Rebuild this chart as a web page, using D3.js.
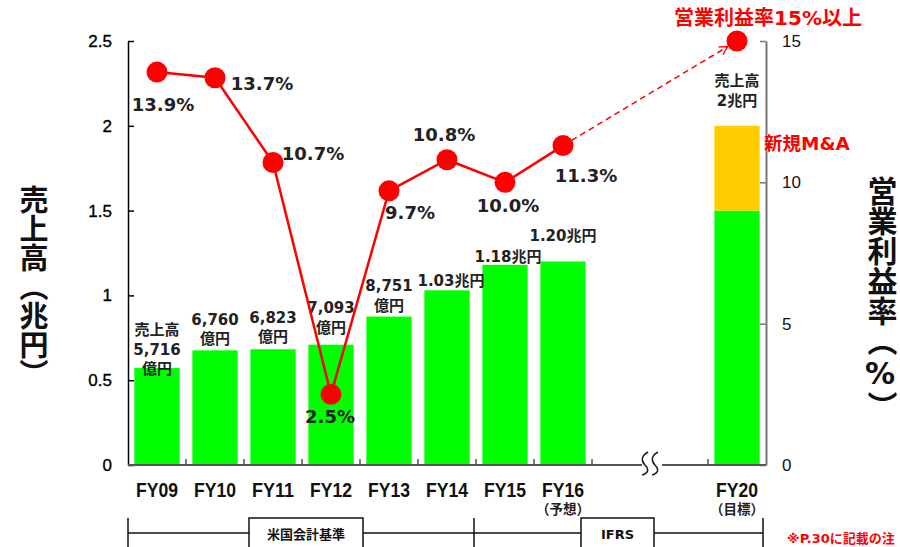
<!DOCTYPE html>
<html>
<head>
<meta charset="utf-8">
<script src="https://cdn.jsdelivr.net/npm/d3@7/dist/d3.min.js"></script>
<style>
  html, body { margin: 0; padding: 0; background: #fff; }
  svg { display: block; }
  .jp { font-family: "DejaVu Sans", "Noto Sans CJK JP", sans-serif; font-weight: bold; }
  .num { font-family: "Liberation Sans", Arial, sans-serif; }
</style>
</head>
<body>
<svg id="chart" width="900" height="547"></svg>
<script>
// Fiscal years shown on the axis
const categories = ["FY09", "FY10", "FY11", "FY12", "FY13", "FY14", "FY15", "FY16", "FY20"];
// Slots along the axis; the two unnamed ones sit inside the axis break
const slots = ["FY09", "FY10", "FY11", "FY12", "FY13", "FY14", "FY15", "FY16", "gapA", "gapB", "FY20"];
// Net sales (trillion yen); FY20 split into existing business + new M&A
const salesBase = [0.5716, 0.6760, 0.6823, 0.7093, 0.8751, 1.03, 1.18, 1.20, 1.5];
const salesMA   = [0, 0, 0, 0, 0, 0, 0, 0, 0.5];
// Operating margin (%)
const margin = [13.9, 13.7, 10.7, 2.5, 9.7, 10.8, 10.0, 11.3, 15];
// Text above each bar
const salesLabels = [
  ["売上高", "5,716", "億円"], ["6,760", "億円"], ["6,823", "億円"], ["7,093", "億円"],
  ["8,751", "億円"], ["1.03兆円"], ["1.18兆円"], ["1.20兆円"], ["売上高", "2兆円"]
];
const marginLabels = ["13.9%", "13.7%", "10.7%", "2.5%", "9.7%", "10.8%", "10.0%", "11.3%"];
const periodNotes = ["", "", "", "", "", "", "", "（予想）", "（目標）"];
const leftTicks = [0, 0.5, 1, 1.5, 2, 2.5];
const rightTicks = [0, 5, 10, 15];
const leftTitle = "売上高（兆円）";
const rightTitle = "営業利益率（%）";
const targetNote = "営業利益率15%以上";
const maNote = "新規M&A";
const standards = ["米国会計基準", "IFRS"];
const footNote = "※P.30に記載の注";

// ---- layout ----
const X0 = 128, X1 = 766, Y0 = 465, Y1 = 41;
const RED = "#ff0000", GREEN = "#00ff00", ORANGE = "#ffcc00";

const svg = d3.select("#chart");

const slotScale = d3.scaleBand().domain(slots).range([X0, X1]).padding(0);
const barScale = d3.scaleBand().domain(slots).range([X0, X1]).paddingInner(0.22).paddingOuter(0.11);
const yL = d3.scaleLinear().domain([0, 2.5]).range([Y0, Y1]);
const yR = d3.scaleLinear().domain([0, 15]).range([Y0, Y1]);
const cx = c => slotScale(c) + slotScale.bandwidth() / 2;

// ---- bars ----
const bars = svg.append("g");
bars.selectAll("rect.base").data(categories).join("rect")
  .attr("class", "base")
  .attr("x", c => barScale(c))
  .attr("width", barScale.bandwidth())
  .attr("y", (c, i) => yL(salesBase[i]))
  .attr("height", (c, i) => Y0 - yL(salesBase[i]))
  .attr("fill", GREEN);
bars.selectAll("rect.ma").data(categories.filter((c, i) => salesMA[i] > 0)).join("rect")
  .attr("class", "ma")
  .attr("x", c => barScale(c))
  .attr("width", barScale.bandwidth())
  .attr("y", c => { const i = categories.indexOf(c); return yL(salesBase[i] + salesMA[i]); })
  .attr("height", c => { const i = categories.indexOf(c); return yL(salesBase[i]) - yL(salesBase[i] + salesMA[i]); })
  .attr("fill", ORANGE);

// ---- sales labels ----
// vertical offset of the last line above the bar top, per category
const labelLift = [-1, 11, 12, 17, 11, 9, 8, 25, 25];
const labelShift = [0, 0, 0, 0, 0, 4, 3, 0, 0];
categories.forEach((c, i) => {
  const lines = salesLabels[i];
  const top = yL(salesBase[i] + salesMA[i]);
  const t = svg.append("text").attr("class", "jp")
    .attr("text-anchor", "middle")
    .attr("font-size", 15)
    .attr("fill", "#222");
  const last = top - labelLift[i];
  lines.forEach((s, k) => {
    t.append("tspan")
      .attr("x", cx(c) + labelShift[i])
      .attr("y", last - (lines.length - 1 - k) * 19.5)
      .attr("dominant-baseline", "central")
      .text(s);
  });
});

// ---- axes ----
const axL = svg.append("g").attr("transform", `translate(${X0},0)`)
  .call(d3.axisLeft(yL).tickValues(leftTicks).tickFormat(d3.format("")).tickSize(-6).tickSizeOuter(0).tickPadding(16));
axL.select(".domain").attr("stroke", "#000").attr("stroke-width", 1.5);
axL.selectAll(".tick line").attr("stroke", "#000").attr("stroke-width", 1.5);
axL.selectAll(".tick text").attr("class", "num").attr("font-size", 17).attr("fill", "#000")
  .attr("stroke", "#000").attr("stroke-width", 0.35);

const axR = svg.append("g").attr("transform", `translate(${X1},0)`)
  .call(d3.axisRight(yR).tickValues(rightTicks).tickSize(-6).tickSizeOuter(0).tickPadding(16));
axR.select(".domain").attr("stroke", "#777").attr("stroke-width", 2);
axR.selectAll(".tick line").attr("stroke", "#777").attr("stroke-width", 1.5);
axR.selectAll(".tick text").attr("class", "num").attr("font-size", 17).attr("fill", "#111");

// category axis with a break between FY16 and FY20
const breakX = slotScale("gapB");
const xa = svg.append("g");
xa.append("line").attr("x1", X0).attr("x2", breakX - 8).attr("y1", Y0).attr("y2", Y0)
  .attr("stroke", "#555").attr("stroke-width", 2);
xa.append("line").attr("x1", breakX + 12).attr("x2", X1).attr("y1", Y0).attr("y2", Y0)
  .attr("stroke", "#555").attr("stroke-width", 2);
const tickSlots = slots.slice(1).filter(s => s !== "gapB");
xa.selectAll("line.tk").data(tickSlots).join("line").attr("class", "tk")
  .attr("x1", s => slotScale(s)).attr("x2", s => slotScale(s))
  .attr("y1", Y0).attr("y2", Y0 - 6)
  .attr("stroke", "#555").attr("stroke-width", 1.5);
// break mark: two stacked S-curves
[-5, 5].forEach(dx => {
  const x = breakX + dx;
  xa.append("path")
    .attr("d", `M${x + 3},${Y0 - 13} C${x - 4},${Y0 - 9} ${x - 4},${Y0 - 4} ${x},${Y0} S${x + 4},${Y0 + 8} ${x - 3},${Y0 + 10}`)
    .attr("fill", "none").attr("stroke", "#222").attr("stroke-width", 1.5);
});

// category labels
categories.forEach((c, i) => {
  svg.append("text").attr("class", "num")
    .attr("x", cx(c)).attr("y", 490)
    .attr("text-anchor", "middle").attr("dominant-baseline", "central")
    .attr("font-size", 20).attr("font-weight", "bold")
    .attr("textLength", 42).attr("lengthAdjust", "spacingAndGlyphs")
    .attr("fill", "#111")
    .text(c);
  if (periodNotes[i]) {
    svg.append("text").attr("class", "jp")
      .attr("x", cx(c)).attr("y", 508.5)
      .attr("text-anchor", "middle").attr("dominant-baseline", "central")
      .attr("font-size", 13.5).attr("fill", "#222")
      .text(periodNotes[i]);
  }
});

// ---- margin line ----
const solidIdx = d3.range(0, 8);
const line = d3.line().x(i => cx(categories[i])).y(i => yR(margin[i]));
svg.append("path").attr("d", line(solidIdx))
  .attr("fill", "none").attr("stroke", RED).attr("stroke-width", 2.5);

// dashed projection to the FY20 target with an arrow
svg.append("defs").append("marker")
  .attr("id", "arrow").attr("viewBox", "0 0 10 10")
  .attr("refX", 9).attr("refY", 5).attr("markerWidth", 10).attr("markerHeight", 10)
  .attr("markerUnits", "userSpaceOnUse").attr("orient", "auto")
  .append("path").attr("d", "M1,0.5 L9,5 L1,9.5")
  .attr("fill", "none").attr("stroke", RED).attr("stroke-width", 1.3);
{
  const ax = cx("FY16"), ay = yR(margin[7]);
  const bx = cx("FY20"), by = yR(margin[8]);
  const len = Math.hypot(bx - ax, by - ay);
  const ux = (bx - ax) / len, uy = (by - ay) / len;
  svg.append("line")
    .attr("x1", ax + ux * 10).attr("y1", ay + uy * 10)
    .attr("x2", bx - ux * 11).attr("y2", by - uy * 11)
    .attr("stroke", RED).attr("stroke-width", 1.5)
    .attr("stroke-dasharray", "6,4")
    .attr("marker-end", "url(#arrow)");
}

svg.selectAll("circle.pt").data(categories).join("circle").attr("class", "pt")
  .attr("cx", c => cx(c)).attr("cy", (c, i) => yR(margin[i]))
  .attr("r", 10.5).attr("fill", RED);

// margin value labels (offset from each point)
const mOff = [[6, 32], [47, 6], [40, -9], [-1, 22], [21, 22], [-3, -25], [3, 23], [23, 30]];
marginLabels.forEach((s, i) => {
  svg.append("text").attr("class", "jp")
    .attr("x", cx(categories[i]) + mOff[i][0])
    .attr("y", yR(margin[i]) + mOff[i][1])
    .attr("text-anchor", "middle").attr("dominant-baseline", "central")
    .attr("font-size", 18).attr("fill", "#222")
    .text(s);
});

// ---- annotations ----
svg.append("text").attr("class", "jp")
  .attr("x", 768).attr("y", 18).attr("text-anchor", "middle").attr("dominant-baseline", "central")
  .attr("font-size", 20).attr("fill", RED).text(targetNote);
svg.append("text").attr("class", "jp")
  .attr("x", 764).attr("y", 143).attr("dominant-baseline", "central")
  .attr("font-size", 18.5).attr("fill", RED).text(maNote);

// axis titles (vertical)
svg.append("text").attr("class", "jp")
  .attr("x", 31).attr("y", 287)
  .attr("writing-mode", "vertical-rl").style("text-orientation", "upright")
  .attr("text-anchor", "middle")
  .attr("font-size", 29).attr("fill", "#111").text(leftTitle);
svg.append("text").attr("class", "jp")
  .attr("x", 880).attr("y", 298)
  .attr("writing-mode", "vertical-rl").style("text-orientation", "upright")
  .attr("text-anchor", "middle")
  .attr("font-size", 30).attr("fill", "#111").text(rightTitle);

// ---- accounting standard bracket ----
const br = svg.append("g");
br.append("line").attr("x1", X0).attr("x2", 763).attr("y1", 533).attr("y2", 533)
  .attr("stroke", "#111").attr("stroke-width", 1.5);
[X0, slotScale("FY15") - 2, 763].forEach(x => {
  br.append("line").attr("x1", x).attr("x2", x).attr("y1", 518).attr("y2", 547)
    .attr("stroke", "#111").attr("stroke-width", 1.5);
});
const boxes = [{ x0: 249, x1: 363 }, { x0: 581, x1: 654 }];
standards.forEach((s, i) => {
  br.append("rect").attr("x", boxes[i].x0).attr("y", 518)
    .attr("width", boxes[i].x1 - boxes[i].x0).attr("height", 40)
    .attr("fill", "#fff").attr("stroke", "#111").attr("stroke-width", 1.5);
  br.append("text").attr("class", "jp")
    .attr("x", (boxes[i].x0 + boxes[i].x1) / 2).attr("y", 534)
    .attr("text-anchor", "middle").attr("dominant-baseline", "central")
    .attr("font-size", 13).attr("fill", "#111").text(s);
});
svg.append("text").attr("class", "jp")
  .attr("x", 787).attr("y", 538).attr("dominant-baseline", "central")
  .attr("font-size", 13).attr("fill", RED).text(footNote);
</script>
</body>
</html>
